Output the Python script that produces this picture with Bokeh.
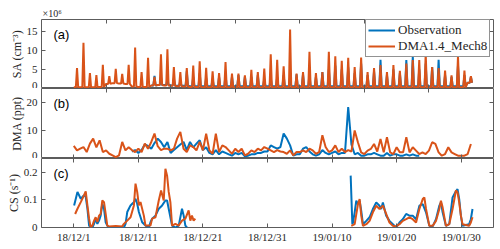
from bokeh.plotting import figure
from bokeh.layouts import column
from bokeh.models import Range1d, LinearAxis, FixedTicker, Label, Legend, LegendItem, Title
from bokeh.embed import file_html
from bokeh.resources import INLINE

# ---------------- data (x = days since 2018-12-01) ----------------
x_tick_days = [0, 10, 20, 30, 40, 50, 60]
x_tick_labels = ["18/12/1", "18/12/11", "18/12/21", "18/12/31", "19/01/10", "19/01/20", "19/01/30"]
x_mid_days = [5, 15, 25, 35, 45, 55]

# SA (1e6 cm^-3): daily midday peak and night baseline
sa_model_start = 0
sa_model_peak = [5.3, 11.9, 4.0, 3.5, 6.2, 3.2, 5.1, 3.8, 6.2, 10.7,
                 4.3, 8.0, 3.0, 8.9, 10.2, 5.6, 4.3, 5.3, 6.0, 7.1,
                 5.4, 4.5, 4.0, 6.9, 3.9, 3.9, 3.4, 4.9, 4.3, 5.2,
                 8.9, 7.5, 5.8, 15.4, 3.9, 4.3, 9.6, 4.0, 4.3, 9.6,
                 8.4, 7.2, 8.0, 5.6, 8.1, 4.3, 5.3, 6.1, 4.3, 6.1,
                 4.6, 6.5, 7.4, 7.4, 9.1, 5.6, 5.3, 4.7, 3.4, 8.4,
                 4.7, 3.2]
sa_model_base = [0.3, 0.3, 0.3, 0.3, 0.4, 1.2, 1.4, 1.3, 1.2, 0.5,
                 0.4, 0.4, 0.8, 0.9, 0.8, 0.7, 0.6, 0.5, 0.4, 0.4,
                 0.3, 0.3, 0.3, 0.3, 0.3, 0.3, 0.3, 0.3, 0.3, 0.3,
                 0.3, 0.3, 0.3, 0.3, 0.3, 0.3, 0.3, 0.3, 0.3, 0.3,
                 0.3, 0.3, 0.3, 0.3, 0.3, 0.3, 0.3, 0.3, 0.3, 0.3,
                 0.3, 0.3, 0.3, 0.3, 0.3, 0.3, 0.3, 0.3, 0.3, 0.3,
                 0.3, 1.5]
sa_obs_start = 12
sa_obs_peak = [3.3, 3.0, 2.5, 2.6, 2.0, 4.5, 3.0, 4.0, 2.8, 2.5,
               3.0, 3.7, 3.0, 3.5, 3.1, 3.0, 3.5, 2.5, 3.0, 3.0,
               3.5, 3.2, 3.7, 3.7, 3.7, 3.0, 4.3, 5.0, 6.0, 5.0,
               5.5, 4.0, 6.5, 3.5, 4.5, 7.5, 3.5, 5.0, 4.0, 7.4,
               8.4, 5.0, 6.5, 5.6, 7.5, 3.5, 3.0, 6.0, 3.5, 3.0]
sa_obs_base = [0.8, 0.9, 0.9, 0.8, 0.7, 0.7, 0.6, 0.6, 0.6, 0.6,
               0.6, 0.6, 0.6, 0.6, 0.6, 0.6, 0.6, 0.6, 0.6, 0.6,
               0.6, 0.6, 0.6, 0.6, 0.6, 0.6, 0.6, 0.6, 0.6, 0.6,
               0.6, 0.6, 0.6, 0.6, 0.6, 0.6, 0.6, 0.6, 0.6, 0.6,
               0.6, 0.6, 0.6, 0.6, 0.6, 0.6, 0.6, 0.6, 0.6, 1.5]

# DMA (ppt): values every half day
dma_model_start = 0.0
dma_model = [4.5, 2.9, 3.5, 4.1, 2.3, 5.3, 7.1, 4.0, 6.5, 2.3,
             2.9, 1.7, 1.1, 0.5, 1.1, 5.9, 2.9, 4.0, 3.0, 2.3,
             3.5, 2.3, 5.3, 3.5, 5.9, 8.9, 4.4, 3.0, 3.5, 3.5,
             2.9, 3.5, 7.1, 9.5, 3.5, 2.3, 4.7, 4.1, 2.9, 5.9,
             2.9, 8.9, 2.9, 1.7, 8.9, 2.3, 4.7, 4.1, 2.9, 1.7,
             3.5, 2.3, 3.5, 1.1, 1.7, 2.9, 2.3, 3.5, 2.9, 4.1,
             3.5, 2.9, 2.3, 3.0, 2.5, 2.3, 1.7, 2.9, 1.1, 2.3,
             2.3, 2.9, 2.3, 3.5, 2.9, 1.7, 2.3, 8.3, 4.1, 2.3,
             2.9, 4.7, 2.3, 3.5, 2.3, 3.0, 2.5, 10.0, 5.8, 2.2,
             1.6, 2.8, 3.4, 5.2, 2.5, 7.0, 2.2, 7.6, 2.2, 1.6,
             4.0, 2.2, 2.2, 7.6, 2.2, 4.0, 2.8, 1.6, 2.2, 1.6,
             2.8, 5.8, 5.2, 2.2, 1.0, 1.6, 4.0, 2.2, 1.6, 1.0,
             1.0, 1.0, 1.6, 5.2]
dma_obs_start = 9.0
dma_obs = [2.5, 3.0, 2.0, 3.0, 5.0, 4.5, 3.5, 5.5, 7.1, 5.9,
           4.0, 5.9, 2.0, 3.0, 4.0, 5.0, 5.9, 3.0, 5.9, 4.0,
           5.3, 6.5, 3.0, 4.0, 2.0, 1.5, 3.0, 1.5, 2.5, 2.0,
           1.5, 1.0, 2.0, 1.5, 2.0, 0.8, 1.0, 1.5, 1.5, 2.0,
           2.0, 2.5, 2.5, 4.7, 4.1, 3.5, 4.1, 8.9, 7.1, 4.7,
           1.0, 1.5, 1.5, 3.5, 4.1, 2.5, 1.5, 1.0, 1.5, 3.0,
           2.0, 1.5, 2.0, 2.5, 1.5, 2.0, 2.0, 18.4, 5.0, 1.5,
           2.0, 1.0, 1.0, 1.5, 1.5, 2.0, 1.5, 1.0, 1.0, 2.0,
           1.0, 1.5, 1.5, 1.0, 1.0, 1.5, 1.0, 1.5, 1.0, 1.0]

# CS (s^-1): two measurement periods
cs_model_t1 = [0.21, 0.57, 1.08, 1.59, 1.85, 2.11, 2.37, 2.62, 2.88, 3.14, 3.39, 3.65, 3.91, 4.16,
               4.42, 4.68, 4.94, 5.19, 5.45, 6.5, 7.5, 7.76, 8.28, 8.79, 9.31, 9.56, 9.82, 10.08,
               10.33, 10.85, 11.1, 11.88, 12.13, 12.65, 13.16, 13.52, 13.93, 14.19, 14.45, 14.7,
               14.96, 15.22, 15.73, 16.25, 16.76, 17.28, 17.79, 18.05, 18.3, 18.56, 18.82]
cs_model_v1 = [0.049, 0.068, 0.092, 0.117, 0.131, 0.080, 0.032, 0.0, 0.007, 0.025, 0.037, 0.020, 0.043, 0.049,
               0.098, 0.092, 0.049, 0.007, 0.004, 0.005, 0.004, 0.013, 0.025, 0.037, 0.080, 0.159, 0.129, 0.080,
               0.092, 0.043, 0.007, 0.007, 0.032, 0.037, 0.098, 0.134, 0.098, 0.213, 0.188, 0.129,
               0.092, 0.007, 0.013, 0.007, 0.025, 0.032, 0.062, 0.025, 0.043, 0.025, 0.032]
cs_model_t2 = [42.98, 43.5, 44.01, 44.27, 44.52, 44.78, 45.3, 45.81, 46.32, 46.84, 47.35, 47.61, 47.87,
               48.38, 48.89, 49.41, 49.92, 50.44, 50.95, 51.47, 51.98, 52.49, 53.01, 53.52, 54.04, 54.29,
               54.55, 55.06, 55.58, 56.09, 56.61, 56.86, 57.12, 57.63, 58.15, 58.66, 59.18, 59.43, 59.69,
               59.95, 60.2, 60.72, 61.23, 61.49, 61.75]
cs_model_v2 = [0.006, 0.012, 0.085, 0.103, 0.043, 0.006, 0.012, 0.024, 0.055, 0.079, 0.067, 0.073, 0.079,
               0.049, 0.018, 0.006, 0.004, 0.012, 0.024, 0.030, 0.037, 0.030, 0.018, 0.067, 0.103, 0.109,
               0.067, 0.006, 0.006, 0.024, 0.067, 0.097, 0.073, 0.006, 0.012, 0.067, 0.134, 0.127, 0.091,
               0.043, 0.012, 0.009, 0.006, 0.018, 0.037]
cs_obs_t1 = [0.05, 0.57, 1.08, 1.59, 1.85, 2.11, 2.37, 2.62, 2.88, 3.14, 3.39, 3.65, 3.91, 4.16, 4.42,
             4.68, 4.94, 5.19, 5.45, 7.76, 8.02, 8.28, 8.53, 8.79, 9.05, 9.31, 9.56, 9.82, 10.08, 10.59,
             11.1, 11.62, 11.88, 12.13, 12.65, 13.16, 13.68, 14.19, 14.45, 14.7, 15.22, 15.73, 16.25,
             16.76, 17.02, 17.28, 17.53]
cs_obs_v1 = [0.080, 0.129, 0.104, 0.117, 0.111, 0.068, 0.007, 0.0, 0.0, 0.013, 0.032, 0.013, 0.025, 0.043, 0.086,
             0.068, 0.019, 0.007, 0.0, 0.0, 0.013, 0.056, 0.068, 0.080, 0.086, 0.092, 0.104, 0.086, 0.056, 0.019,
             0.007, 0.0, 0.019, 0.032, 0.043, 0.068, 0.080, 0.098, 0.098, 0.068, 0.007, 0.0, 0.007,
             0.068, 0.043, 0.007, 0.0]
cs_obs_t2 = [42.88, 43.14, 43.24, 43.5, 43.75, 44.0, 44.27, 44.52, 44.78, 45.3, 45.81, 46.32, 46.84, 47.35,
             47.61, 47.87, 48.12, 48.38, 48.89, 49.41, 49.92, 50.44, 50.95, 51.47, 51.98, 52.49, 53.01,
             53.52, 54.04, 54.55, 55.06, 55.58, 56.09, 56.61, 56.86, 57.12, 57.63, 58.15, 58.66, 59.07,
             59.43, 59.69, 59.95, 60.2, 60.72, 61.23, 61.49, 61.75]
cs_obs_v2 = [0.188, 0.012, 0.018, 0.055, 0.097, 0.085, 0.097, 0.060, 0.012, 0.024, 0.037, 0.067, 0.091, 0.079,
             0.067, 0.091, 0.067, 0.043, 0.024, 0.012, 0.0, 0.018, 0.030, 0.049, 0.043, 0.043, 0.030,
             0.079, 0.085, 0.055, 0.006, 0.004, 0.030, 0.079, 0.091, 0.055, 0.006, 0.012, 0.109, 0.127,
             0.139, 0.103, 0.043, 0.006, 0.009, 0.012, 0.030, 0.067]

series_names = ["Observation", "DMA1.4_Mech8"]
y_labels = ["SA (cm\u207b\u00b3)", "DMA (ppt)", "CS (s\u207b\u00b9)"]
panel_tags = ["(a)", "(b)", "(c)"]
sa_exponent = "\u00d710\u2076"

# ---------------- helpers ----------------
BLUE = "#0072BD"
ORANGE = "#D95319"
AXC = "#5c5c5c"
TXT = "#262626"
SERIF = "Liberation Serif"
X0, X1 = -5, 65
FIG_W = 497


def daily_series(start, peaks, bases):
    t, v = [], []
    for i, (pk, b) in enumerate(zip(peaks, bases)):
        d = start + i
        t += [d, d + 0.32, d + 0.5, d + 0.68]
        v += [b, b, pk, b]
    return t, v


def halfday_series(start, vals):
    return [start + 0.5 * i for i in range(len(vals))], vals


def style_axis(ax, labels=False):
    ax.axis_line_color = None
    ax.major_tick_in = 4
    ax.major_tick_out = 0
    ax.major_tick_line_color = AXC
    ax.minor_tick_line_color = None
    if labels:
        ax.major_label_text_font = SERIF
        ax.major_label_text_font_size = "11px"
        ax.major_label_text_color = TXT
        ax.major_label_standoff = 4
    else:
        ax.major_label_text_font_size = "1px"
        ax.major_label_text_color = None
        ax.major_label_standoff = 0


xr = Range1d(X0, X1)


def make_panel(height, ytop, yticks, top_ticks, bottom_ticks, btop, bbottom, ylabel, tag,
               xlabels=False, title=None):
    p = figure(width=FIG_W, height=height, x_range=xr, y_range=Range1d(0, ytop),
               output_backend="svg", toolbar_location=None, title=title,
               min_border_left=41, min_border_right=4, min_border_top=btop, min_border_bottom=bbottom)
    p.grid.visible = False
    p.outline_line_color = AXC
    p.outline_line_width = 1
    p.background_fill_color = "white"
    p.border_fill_color = "white"
    if title is not None:
        p.title.align = "left"
        p.title.offset = 1
        p.title.standoff = 1
        p.title.text_font = SERIF
        p.title.text_font_size = "10px"
        p.title.text_font_style = "normal"
        p.title.text_color = TXT
    yax = p.left[0]
    yax.ticker = FixedTicker(ticks=yticks)
    style_axis(yax, labels=True)
    ytitle = Title(text=ylabel, align="center", standoff=0, offset=0,
                   text_font=SERIF, text_font_size="12px", text_font_style="normal",
                   text_color=TXT)
    p.add_layout(ytitle, "left")
    xax = p.below[0]
    xax.ticker = FixedTicker(ticks=bottom_ticks)
    style_axis(xax, labels=xlabels)
    if xlabels:
        xax.major_label_standoff = 3
        xax.major_label_overrides = {d: lab for d, lab in zip(x_tick_days, x_tick_labels)}
    else:
        xax.fixed_location = 0
    rax = LinearAxis(ticker=FixedTicker(ticks=yticks), fixed_location=X1)
    style_axis(rax)
    p.add_layout(rax, "right")
    tax = LinearAxis(ticker=FixedTicker(ticks=top_ticks), fixed_location=ytop)
    style_axis(tax)
    p.add_layout(tax, "above")
    p.add_layout(Label(x=12, y=0, x_units="screen", y_units="screen", text=tag,
                       text_align="left", text_baseline="middle",
                       text_font="Liberation Sans", text_font_size="13px", text_color="black"))
    return p


# ---------------- panel (a) SA ----------------
p1 = make_panel(88, 18, [0, 5, 10, 15], x_mid_days, x_mid_days, 19, 0, y_labels[0], panel_tags[0],
                title=sa_exponent)
t, v = daily_series(sa_obs_start, sa_obs_peak, sa_obs_base)
r_obs = p1.line(t, v, line_color=BLUE, line_width=2)
t, v = daily_series(sa_model_start, sa_model_peak, sa_model_base)
r_mod = p1.line(t, v, line_color=ORANGE, line_width=2)
legend = Legend(items=[LegendItem(label=series_names[0], renderers=[r_obs]),
                       LegendItem(label=series_names[1], renderers=[r_mod])],
                location=(324, 31), orientation="vertical",
                label_text_font=SERIF, label_text_font_size="13px", label_text_color=TXT,
                glyph_width=27, glyph_height=14, label_height=14, label_standoff=3,
                padding=2, spacing=0, margin=0,
                border_line_color=TXT, border_line_width=1,
                background_fill_color="white", background_fill_alpha=1.0)
p1.add_layout(legend)

# ---------------- panel (b) DMA ----------------
p2 = make_panel(70, 25, [0, 10, 20], x_mid_days, x_tick_days, 0, 0, y_labels[1], panel_tags[1])
t, v = halfday_series(dma_obs_start, dma_obs)
p2.line(t, v, line_color=BLUE, line_width=2)
t, v = halfday_series(dma_model_start, dma_model)
p2.line(t, v, line_color=ORANGE, line_width=2)

# ---------------- panel (c) CS ----------------
p3 = make_panel(89, 0.25, [0, 0.1, 0.2], x_tick_days, x_tick_days, 0, 20, y_labels[2], panel_tags[2],
                xlabels=True)
p3.line(cs_obs_t1, cs_obs_v1, line_color=BLUE, line_width=2)
p3.line(cs_obs_t2, cs_obs_v2, line_color=BLUE, line_width=2)
p3.line(cs_model_t1, cs_model_v1, line_color=ORANGE, line_width=2)
p3.line(cs_model_t2, cs_model_v2, line_color=ORANGE, line_width=2)

# panel tag vertical positions: 15 px below each frame top (screen units from frame bottom)
for p, fh in ((p1, 69), (p2, 70), (p3, 69)):
    for r in p.center:
        if isinstance(r, Label):
            r.y = fh - 15

layout = column(p1, p2, p3, spacing=0)
open("out.html", "w").write(file_html(layout, INLINE))
